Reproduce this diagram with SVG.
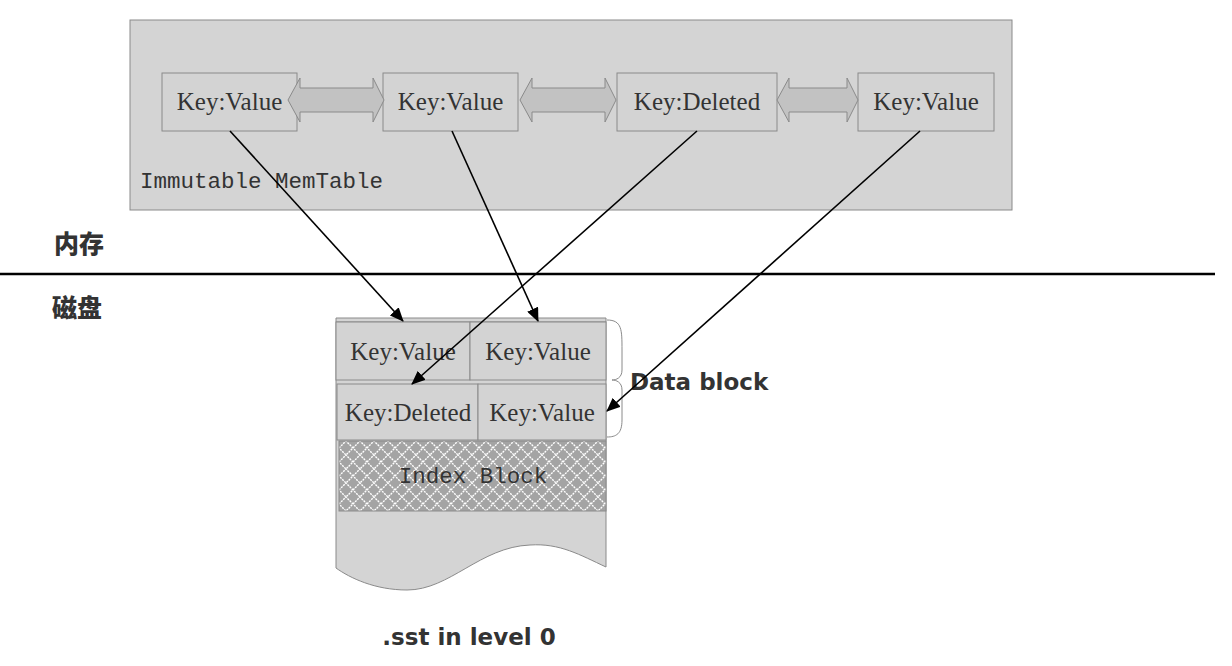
<svg xmlns="http://www.w3.org/2000/svg" width="1232" height="666" viewBox="0 0 1232 666">
<style>
.box{fill:#d3d3d3;stroke:#8a8a8a;stroke-width:1}
.kv{font-family:"Liberation Serif",serif;font-size:25px;fill:#333}
.mono{font-family:"Liberation Mono",monospace;font-size:22.5px;fill:#333}
.dbl{fill:#c2c2c2;stroke:#8a8a8a;stroke-width:1}
.conn{stroke:#000;stroke-width:1.6;fill:none;marker-end:url(#ah)}
.heavy{font-family:"Noto Sans CJK SC","Liberation Sans",sans-serif;font-weight:900;fill:#333}
.bold{font-family:"DejaVu Sans","Liberation Sans",sans-serif;font-weight:bold;fill:#333}
</style>
<defs>
<marker id="ah" markerWidth="14" markerHeight="12" refX="13" refY="6" orient="auto" markerUnits="userSpaceOnUse" viewBox="0 0 14 12">
<path d="M0,0 L14,6 L0,12 Z" fill="#000"/>
</marker>
<pattern id="hatch" width="14" height="14" patternUnits="userSpaceOnUse" x="339" y="441">
<rect width="14" height="14" fill="#a4a4a4"/>
<path d="M0,7 L7,0 L14,7 L7,14 Z" fill="none" stroke="#fff" stroke-width="1.4" stroke-dasharray="2,1"/>
</pattern>
</defs>
<rect width="1232" height="666" fill="#fff"/>

<g id="memtable">
<rect x="130" y="20" width="882" height="190" fill="#d4d4d4" stroke="#8a8a8a"/>
<text class="mono" x="140" y="188">Immutable MemTable</text>
</g>

<g id="kv1"><rect class="box" x="162" y="73" width="135" height="58"/><text class="kv" x="229.5" y="110" text-anchor="middle">Key:Value</text></g>
<g id="kv2"><rect class="box" x="383" y="73" width="135" height="58"/><text class="kv" x="450.5" y="110" text-anchor="middle">Key:Value</text></g>
<g id="kv3"><rect class="box" x="617" y="73" width="160" height="58"/><text class="kv" x="697" y="110" text-anchor="middle">Key:Deleted</text></g>
<g id="kv4"><rect class="box" x="858" y="73" width="136" height="58"/><text class="kv" x="926" y="110" text-anchor="middle">Key:Value</text></g>

<g id="links">
<path class="dbl" d="M288,100 L300,78 L300,88 L373,88 L373,78 L384,100 L373,122 L373,112 L300,112 L300,122 Z"/>
<path class="dbl" d="M520,100 L532,78 L532,88 L605,88 L605,78 L616,100 L605,122 L605,112 L532,112 L532,122 Z"/>
<path class="dbl" d="M777,100 L789,78 L789,88 L847,88 L847,78 L858,100 L847,122 L847,112 L789,112 L789,122 Z"/>
</g>

<g id="divider">
<line x1="0" y1="274" x2="1215" y2="274" stroke="#000" stroke-width="2.5"/>
<text class="heavy" x="54" y="253" font-size="25">内存</text>
<text class="heavy" x="52" y="317" font-size="25">磁盘</text>
</g>

<g id="sst">
<path d="M336,318 L606,318 L606,567 C580,555 560,543 530,545 C480,547 450,590 407,590 C375,590 350,578 336,568 Z" fill="#d4d4d4" stroke="#8a8a8a"/>
<line x1="336" y1="322" x2="606" y2="322" stroke="#8a8a8a"/>
<rect class="box" x="336" y="322" width="134" height="58"/>
<rect class="box" x="470" y="322" width="136" height="58"/>
<text class="kv" x="403" y="360" text-anchor="middle">Key:Value</text>
<text class="kv" x="538" y="360" text-anchor="middle">Key:Value</text>
<rect class="box" x="337" y="384" width="141" height="56"/>
<rect class="box" x="478" y="384" width="128" height="56"/>
<text class="kv" x="408" y="421" text-anchor="middle">Key:Deleted</text>
<text class="kv" x="542" y="421" text-anchor="middle">Key:Value</text>
<rect x="339" y="441" width="267" height="70" fill="url(#hatch)" stroke="#8a8a8a"/>
<text class="mono" x="473" y="483" text-anchor="middle">Index Block</text>
<text class="bold" x="469" y="645" font-size="23" text-anchor="middle">.sst in level 0</text>
</g>

<g id="datablock">
<path d="M607,320 C622,320 622,330 622,350 L622,370 C622,378 616,380 612,380 C616,380 622,382 622,390 L622,420 C622,434 616,437 607,437" fill="none" stroke="#8a8a8a"/>
<text class="bold" x="630" y="390" font-size="23">Data block</text>
</g>

<g id="connectors">
<line class="conn" x1="230" y1="131" x2="403" y2="321"/>
<line class="conn" x1="452" y1="131" x2="538" y2="321"/>
<line class="conn" x1="697" y1="131" x2="412" y2="384"/>
<line class="conn" x1="920" y1="131" x2="607" y2="411"/>
</g>
</svg>
